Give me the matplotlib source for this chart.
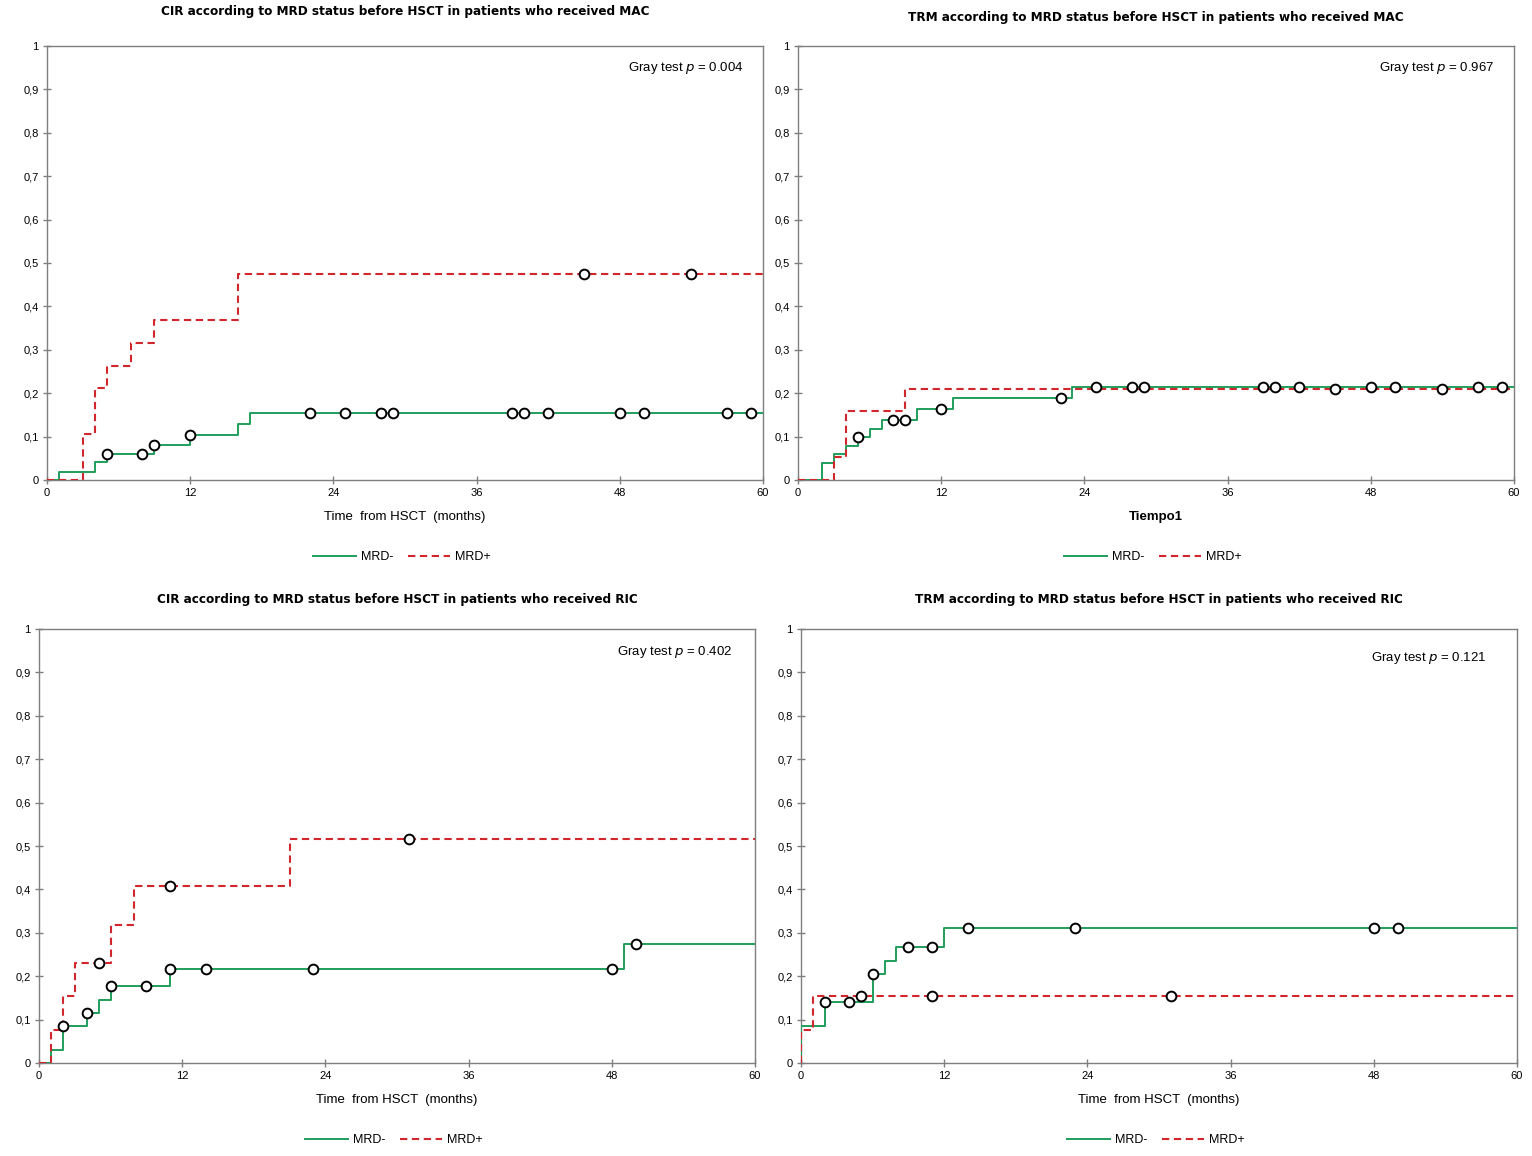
import numpy as np
import matplotlib
matplotlib.use('Agg')
import matplotlib.pyplot as plt

plt.rcParams['font.family'] = ['Liberation Sans', 'DejaVu Sans']

# panel 1: CIR, MAC
cir_mac_neg_t = [0, 1, 4, 5, 9, 12, 16, 17]
cir_mac_neg_y = [0, 0.019, 0.041, 0.060, 0.080, 0.104, 0.129, 0.154]
cir_mac_neg_c = [5, 8, 9, 12, 22, 25, 28, 29, 39, 40, 42, 48, 50, 57, 59]
cir_mac_pos_t = [0, 3, 4, 5, 7, 9, 16]
cir_mac_pos_y = [0, 0.105, 0.211, 0.263, 0.316, 0.368, 0.474]
cir_mac_pos_c = [45, 54]

# panel 2: TRM, MAC
trm_mac_neg_t = [0, 2, 3, 4, 5, 6, 7, 10, 13, 23]
trm_mac_neg_y = [0, 0.040, 0.060, 0.078, 0.098, 0.118, 0.139, 0.163, 0.188, 0.215]
trm_mac_neg_c = [5, 8, 9, 12, 22, 25, 28, 29, 39, 40, 42, 48, 50, 57, 59]
trm_mac_pos_t = [0, 3, 4, 9]
trm_mac_pos_y = [0, 0.053, 0.158, 0.210]
trm_mac_pos_c = [45, 54]

# panel 3: CIR, RIC
cir_ric_neg_t = [0, 1, 2, 4, 5, 6, 11, 49]
cir_ric_neg_y = [0, 0.029, 0.086, 0.115, 0.145, 0.177, 0.216, 0.275]
cir_ric_neg_c = [2, 4, 6, 9, 11, 14, 23, 48, 50]
cir_ric_pos_t = [0, 1, 2, 3, 6, 8, 21]
cir_ric_pos_y = [0, 0.077, 0.154, 0.231, 0.318, 0.407, 0.517]
cir_ric_pos_c = [5, 11, 31]

# panel 4: TRM, RIC
trm_ric_neg_t = [0, 0, 2, 6, 7, 8, 12]
trm_ric_neg_y = [0, 0.085, 0.141, 0.204, 0.236, 0.268, 0.312]
trm_ric_neg_c = [2, 4, 6, 9, 11, 14, 23, 48, 50]
trm_ric_pos_t = [0, 0, 1]
trm_ric_pos_y = [0, 0.077, 0.154]
trm_ric_pos_c = [5, 11, 31]

titles = ['CIR according to MRD status before HSCT in patients who received MAC',
          'TRM according to MRD status before HSCT in patients who received MAC',
          'CIR according to MRD status before HSCT in patients who received RIC',
          'TRM according to MRD status before HSCT in patients who received RIC']
pvals = ['0.004', '0.967', '0.402', '0.121']
xlabels = ['Time  from HSCT  (months)', 'Tiempo1', 'Time  from HSCT  (months)', 'Time  from HSCT  (months)']

panels = [
    (cir_mac_neg_t, cir_mac_neg_y, cir_mac_neg_c, cir_mac_pos_t, cir_mac_pos_y, cir_mac_pos_c),
    (trm_mac_neg_t, trm_mac_neg_y, trm_mac_neg_c, trm_mac_pos_t, trm_mac_pos_y, trm_mac_pos_c),
    (cir_ric_neg_t, cir_ric_neg_y, cir_ric_neg_c, cir_ric_pos_t, cir_ric_pos_y, cir_ric_pos_c),
    (trm_ric_neg_t, trm_ric_neg_y, trm_ric_neg_c, trm_ric_pos_t, trm_ric_pos_y, trm_ric_pos_c),
]

W, H = 1532, 1156
# axes boxes in pixels: left, right, top, bottom
boxes = [(47, 763, 46, 480), (798, 1514, 46, 480), (39, 755, 629, 1063), (801, 1517, 629, 1063)]
title_y = [12, 17, 600, 600]
ptext_x = [0.973, 0.972, 0.969, 0.958]
ptext_y = [0.949, 0.949, 0.947, 0.933]

green = '#1f9e5a'
red = '#d1262b'
axcol = '#7f7f7f'

fig = plt.figure(figsize=(W / 100, H / 100), dpi=100)


def step_value(ts, ys, t):
    v = ys[0]
    for a, b in zip(ts, ys):
        if a <= t:
            v = b
    return v


for i, (nt, ny, nc, pt, py, pc) in enumerate(panels):
    l, r, t, b = boxes[i]
    ax = fig.add_axes([l / W, 1 - b / H, (r - l) / W, (b - t) / H])
    xs = list(nt) + [60]
    ys = list(ny) + [ny[-1]]
    ax.step(xs, ys, where='post', color=green, lw=1.4, label='MRD-', zorder=3)
    xs = list(pt) + [60]
    ys = list(py) + [py[-1]]
    ax.step(xs, ys, where='post', color=red, lw=1.5, dashes=(3.5, 2.2), label='MRD+', zorder=4)
    ax.plot(nc, [step_value(nt, ny, c) for c in nc], 'o', ms=7, mfc='white', mec='black', mew=1.4, zorder=5)
    ax.plot(pc, [step_value(pt, py, c) for c in pc], 'o', ms=7, mfc='white', mec='black', mew=1.4, zorder=5)

    ax.set_xlim(0, 60)
    ax.set_ylim(0, 1)
    ax.set_xticks([0, 12, 24, 36, 48, 60])
    yt = np.round(np.arange(0, 1.01, 0.1), 1)
    ax.set_yticks(yt)
    ax.set_yticklabels(['0'] + [('%.1f' % v).replace('.', ',') for v in yt[1:-1]] + ['1'])
    for s in ax.spines.values():
        s.set_color(axcol)
        s.set_linewidth(1.0)
    ax.tick_params(direction='inout', length=6, width=1, color=axcol, labelsize=8, pad=3)

    if i == 1:
        ax.set_xlabel(xlabels[i], fontsize=9.5, fontweight='bold', labelpad=9)
    else:
        ax.set_xlabel(xlabels[i], fontsize=9.5, labelpad=9)

    ax.text(ptext_x[i], ptext_y[i], 'Gray test $\\it{p}$ = ' + pvals[i], transform=ax.transAxes,
            ha='right', va='center', fontsize=9.5)
    fig.text((l + r) / 2 / W, 1 - title_y[i] / H, titles[i], ha='center', va='center',
             fontsize=9.6, fontweight='bold', fontstretch='condensed', family=['DejaVu Sans'])
    ax.legend(loc='center', bbox_to_anchor=(0.496, -0.178), ncol=2, frameon=False, fontsize=9,
              handlelength=3.4, columnspacing=1.2, handletextpad=0.4)

fig.savefig('out.png', dpi=100)
